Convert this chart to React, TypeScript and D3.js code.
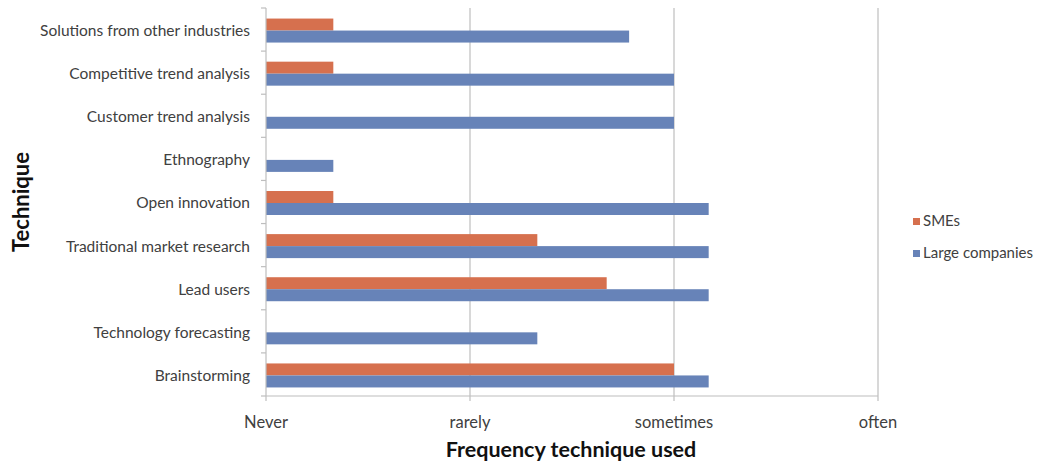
import React from "react";
import * as d3 from "d3";

const categories = [
  "Solutions from other industries",
  "Competitive trend analysis",
  "Customer trend analysis",
  "Ethnography",
  "Open innovation",
  "Traditional market research ",
  "Lead users",
  "Technology forecasting",
  "Brainstorming",
];
const smes = [0.33, 0.33, 0, 0, 0.33, 1.33, 1.67, 0, 2.0];
const large = [1.78, 2.0, 2.0, 0.33, 2.17, 2.17, 2.17, 1.33, 2.17];
const tickLabels = ["Never", "rarely", "sometimes", "often"];
const seriesNames = ["SMEs", "Large companies"];

const W = 1038;
const H = 463;
const left = 266;
const right = 878;
const top = 8;
const bottom = 396;
const SME_COLOR = "#D6704E";
const LARGE_COLOR = "#6783B8";
const TEXT = "#404040";
const FONT = "Lato, 'Open Sans', sans-serif";

export default function App() {
  const x = d3.scaleLinear().domain([0, 3]).range([left, right]);
  const y = d3.scaleBand<string>().domain(categories).range([top, bottom]).paddingInner(0).paddingOuter(0);
  const bw = y.bandwidth();
  const barH = 12;
  const groupOffset = (bw - 2 * barH) / 2 + 1;
  const ticks = [0, 1, 2, 3];

  return (
    <svg width={W} height={H} style={{ position: "absolute", left: 0, top: 0, background: "#fff" }}>
      {ticks.slice(1).map((t) => (
        <line key={"g" + t} x1={x(t)} x2={x(t)} y1={top} y2={bottom} stroke="#BEBEBE" strokeWidth={1.2} />
      ))}
      {categories.map((c, i) => {
        const y0 = (y(c) as number) + groupOffset;
        return (
          <g key={c}>
            {smes[i] > 0 && (
              <rect x={x(0)} y={y0} width={x(smes[i]) - x(0)} height={barH} fill={SME_COLOR} />
            )}
            <rect x={x(0)} y={y0 + barH} width={x(large[i]) - x(0)} height={barH} fill={LARGE_COLOR} />
          </g>
        );
      })}
      <line x1={left} x2={left} y1={top} y2={bottom} stroke="#BEBEBE" strokeWidth={1.2} />
      {d3.range(categories.length + 1).map((i) => {
        const yy = top + i * bw;
        return <line key={"yt" + i} x1={left - 5} x2={left} y1={yy} y2={yy} stroke="#BEBEBE" strokeWidth={1.2} />;
      })}
      <line x1={left} x2={right} y1={bottom} y2={bottom} stroke="#BEBEBE" strokeWidth={1.2} />
      {ticks.map((t) => (
        <line key={"xt" + t} x1={x(t)} x2={x(t)} y1={bottom} y2={bottom + 5} stroke="#BEBEBE" strokeWidth={1.2} />
      ))}
      {categories.map((c) => (
        <text
          key={"l" + c}
          x={250}
          y={(y(c) as number) + bw / 2 + 2.5}
          textAnchor="end"
          dominantBaseline="middle"
          fontFamily={FONT}
          fontSize={15.5}
          fill={TEXT}
        >
          {c}
        </text>
      ))}
      {ticks.map((t) => (
        <text
          key={"xl" + t}
          x={x(t)}
          y={424}
          textAnchor="middle"
          dominantBaseline="middle"
          fontFamily={FONT}
          fontSize={16.5}
          fill={TEXT}
        >
          {tickLabels[t]}
        </text>
      ))}
      <text x={571} y={451} textAnchor="middle" dominantBaseline="middle" fontFamily={FONT} fontSize={21.5} fontWeight="bold" fill="#111">
        Frequency technique used
      </text>
      <text
        transform={`translate(23, ${(top + bottom) / 2}) rotate(-90)`}
        textAnchor="middle"
        dominantBaseline="middle"
        fontFamily={FONT}
        fontSize={22}
        fontWeight="bold"
        fill="#111"
      >
        Technique
      </text>
      {seriesNames.map((s, i) => (
        <g key={s} transform={`translate(913, ${222 + i * 32})`}>
          <rect x={0} y={-4} width={7} height={7} fill={i === 0 ? SME_COLOR : LARGE_COLOR} />
          <text x={10} y={0} dominantBaseline="middle" fontFamily={FONT} fontSize={15} fill={TEXT}>
            {s}
          </text>
        </g>
      ))}
    </svg>
  );
}
